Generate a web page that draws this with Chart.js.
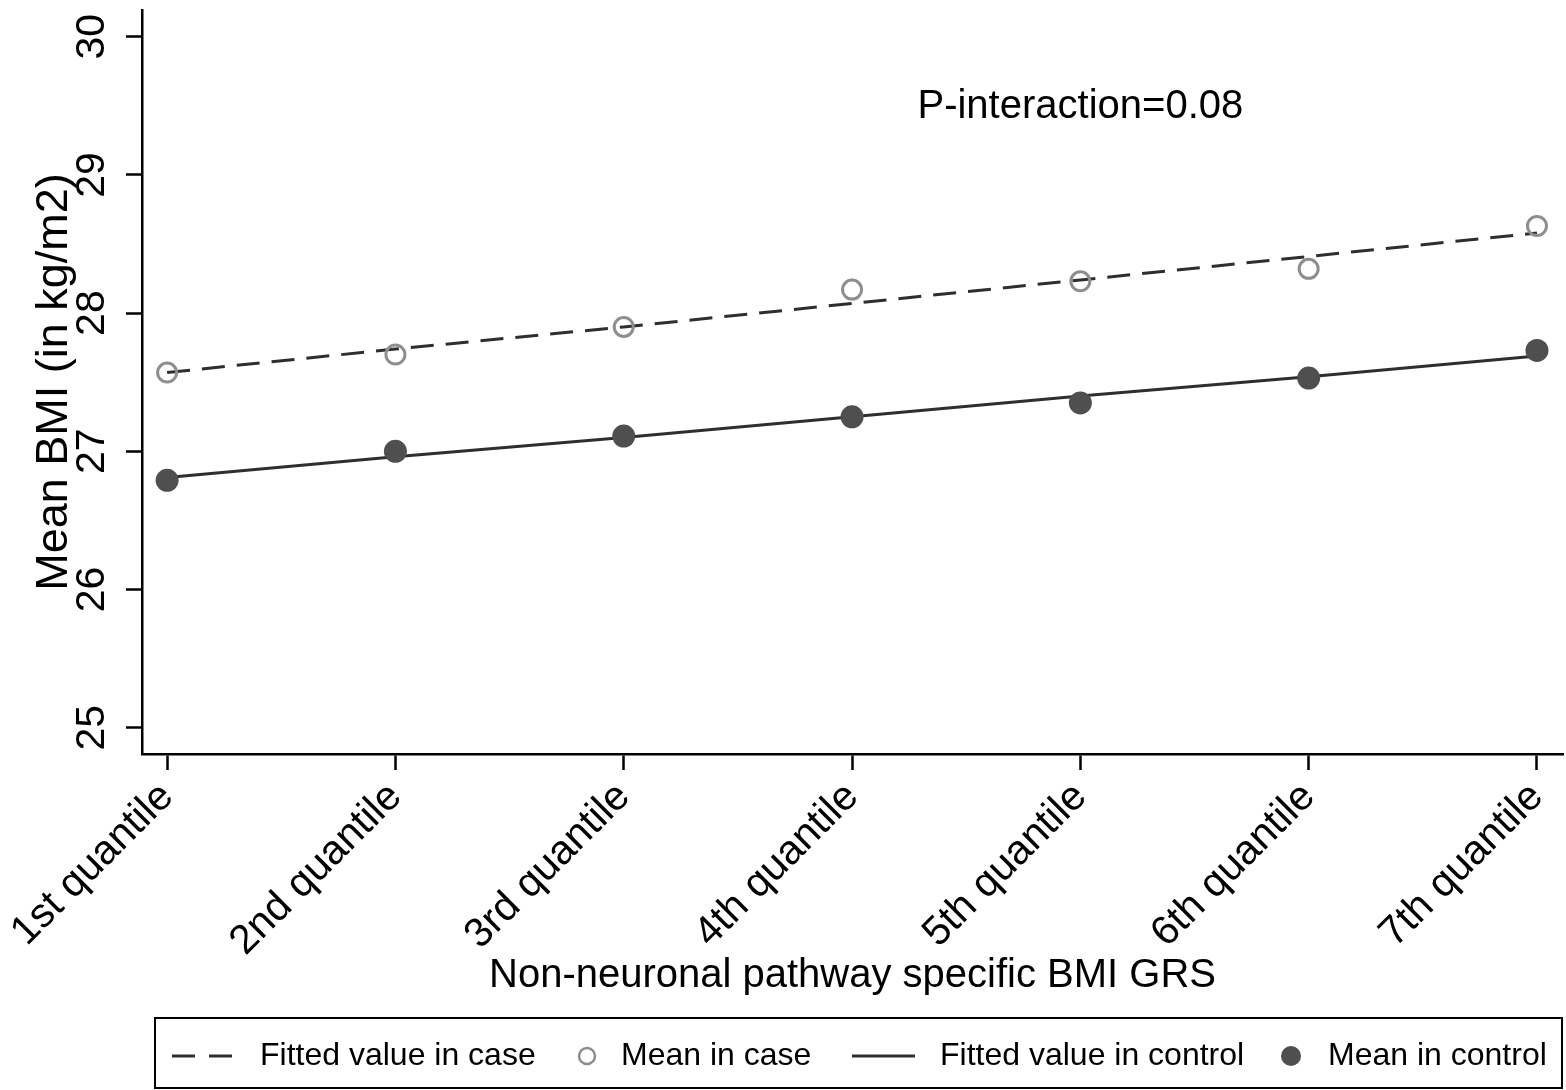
<!DOCTYPE html>
<html lang="en">
<head>
    <meta charset="UTF-8">
    <title>Mean BMI by non-neuronal pathway specific BMI GRS</title>
    <script src="https://cdn.jsdelivr.net/npm/chart.js@4.4.1/dist/chart.umd.min.js"></script>
    <style>
        body { margin: 0; background: #ffffff; }
        #wrap { width: 1566px; height: 1090px; }
    </style>
</head>
<body>
    <div id="wrap"><canvas id="graph" width="1566" height="1090"></canvas></div>

    <script>
        // categories on the x axis (quantiles 1..7)
        const quantiles = ['1st quantile', '2nd quantile', '3rd quantile', '4th quantile',
                           '5th quantile', '6th quantile', '7th quantile'];
        const xPos = [1, 2, 3, 4, 5, 6, 7];

        const meanCase = [27.57, 27.70, 27.90, 28.17, 28.23, 28.32, 28.63];
        const fittedCase = [27.57, 27.74, 27.90, 28.07, 28.24, 28.41, 28.58];
        const meanControl = [26.79, 27.00, 27.11, 27.25, 27.35, 27.53, 27.73];
        const fittedControl = [26.81, 26.96, 27.10, 27.25, 27.40, 27.54, 27.69];

        const yTicks = [25, 26, 27, 28, 29, 30];
        const note = 'P-interaction=0.08';
        const noteAt = { x: 5, y: 29.49 };

        const FONT = 'Arial, "Liberation Sans", sans-serif';
        const lineColor = '#2e2e2e';
        const hollowColor = '#8e8e8e';
        const dotColor = '#4f4f4f';

        function pts(vals) {
            return vals.map((v, i) => ({ x: xPos[i], y: v }));
        }

        // text note + framed legend below the axis title
        const extras = {
            id: 'extras',
            afterDraw(chart) {
                const ctx = chart.ctx;
                const xs = chart.scales.x, ys = chart.scales.y;
                ctx.save();
                ctx.fillStyle = '#000';
                ctx.font = '40px ' + FONT;
                ctx.textAlign = 'center';
                ctx.textBaseline = 'middle';
                ctx.fillText(note, xs.getPixelForValue(noteAt.x), ys.getPixelForValue(noteAt.y));

                // legend frame
                ctx.lineWidth = 2;
                ctx.strokeStyle = '#000';
                ctx.strokeRect(155, 1018, 1407, 70);

                const ly = 1056;
                const ds = chart.data.datasets;
                ctx.font = '32px ' + FONT;
                ctx.textAlign = 'left';

                // dashed sample
                ctx.strokeStyle = lineColor;
                ctx.lineWidth = 3;
                ctx.setLineDash([23, 14]);
                ctx.beginPath(); ctx.moveTo(172, ly); ctx.lineTo(232, ly); ctx.stroke();
                ctx.setLineDash([]);
                ctx.fillText(ds[0].label, 260, ly);

                // hollow circle
                ctx.strokeStyle = hollowColor;
                ctx.lineWidth = 2.5;
                ctx.beginPath(); ctx.arc(587, ly, 8, 0, Math.PI * 2); ctx.stroke();
                ctx.fillText(ds[1].label, 621, ly);

                // solid sample
                ctx.strokeStyle = lineColor;
                ctx.lineWidth = 3;
                ctx.beginPath(); ctx.moveTo(852, ly); ctx.lineTo(915, ly); ctx.stroke();
                ctx.fillText(ds[2].label, 940, ly);

                // filled dot
                ctx.fillStyle = dotColor;
                ctx.beginPath(); ctx.arc(1291, ly, 10, 0, Math.PI * 2); ctx.fill();
                ctx.fillStyle = '#000';
                ctx.fillText(ds[3].label, 1328, ly);
                ctx.restore();
            }
        };

        const ctx = document.getElementById('graph').getContext('2d');
        new Chart(ctx, {
            type: 'line',
            data: {
                datasets: [{
                    label: 'Fitted value in case',
                    data: pts(fittedCase),
                    borderColor: lineColor,
                    borderWidth: 3,
                    borderDash: [23, 12],
                    pointRadius: 0,
                    fill: false,
                    order: 3
                }, {
                    label: 'Mean in case',
                    data: pts(meanCase),
                    showLine: false,
                    pointStyle: 'circle',
                    pointRadius: 9.5,
                    pointBorderWidth: 3,
                    pointBorderColor: hollowColor,
                    pointBackgroundColor: 'rgba(0,0,0,0)',
                    order: 2
                }, {
                    label: 'Fitted value in control',
                    data: pts(fittedControl),
                    borderColor: lineColor,
                    borderWidth: 3,
                    pointRadius: 0,
                    fill: false,
                    order: 4
                }, {
                    label: 'Mean in control',
                    data: pts(meanControl),
                    showLine: false,
                    pointStyle: 'circle',
                    pointRadius: 11.5,
                    pointBorderWidth: 0,
                    pointBackgroundColor: dotColor,
                    order: 1
                }]
            },
            options: {
                responsive: false,
                animation: false,
                layout: { autoPadding: false, padding: { top: 10, right: 3, bottom: 80, left: 0 } },
                plugins: {
                    legend: { display: false },
                    tooltip: { enabled: false }
                },
                scales: {
                    x: {
                        type: 'linear',
                        min: 0.89,
                        max: 7.114,
                        border: { display: true, color: '#000', width: 2.5 },
                        grid: { drawOnChartArea: false, drawTicks: true, tickLength: 16, tickColor: '#000', tickWidth: 2.5 },
                        afterBuildTicks(scale) {
                            scale.ticks = xPos.map(v => ({ value: v }));
                        },
                        afterFit(scale) {
                            scale.height = 256;
                            scale.paddingLeft = 0;
                            scale.paddingRight = 0;
                        },
                        ticks: {
                            color: '#000',
                            font: { family: FONT, size: 41 },
                            minRotation: 45,
                            maxRotation: 45,
                            padding: 3,
                            autoSkip: false,
                            callback: (v) => quantiles[xPos.indexOf(v)] || ''
                        },
                        title: {
                            display: true,
                            text: 'Non-neuronal pathway specific BMI GRS',
                            color: '#000',
                            font: { family: FONT, size: 40 },
                            padding: { top: 10, bottom: 10 }
                        }
                    },
                    y: {
                        min: 24.81,
                        max: 30.193,
                        border: { display: true, color: '#000', width: 2.5 },
                        grid: { drawOnChartArea: false, drawTicks: true, tickLength: 16, tickColor: '#000', tickWidth: 2.5 },
                        afterBuildTicks(scale) {
                            scale.ticks = yTicks.map(v => ({ value: v }));
                        },
                        afterFit(scale) {
                            scale.width = 142;
                            scale.paddingTop = 0;
                            scale.paddingBottom = 0;
                        },
                        ticks: {
                            color: '#000',
                            font: { family: FONT, size: 41 },
                            minRotation: 90,
                            maxRotation: 90,
                            crossAlign: 'center',
                            padding: 11,
                            callback: (v) => String(v)
                        },
                        title: {
                            display: true,
                            text: 'Mean BMI (in kg/m2)',
                            color: '#000',
                            font: { family: FONT, size: 45 },
                            padding: { top: 28, bottom: 0 }
                        }
                    }
                }
            },
            plugins: [extras]
        });
    </script>
</body>
</html>
